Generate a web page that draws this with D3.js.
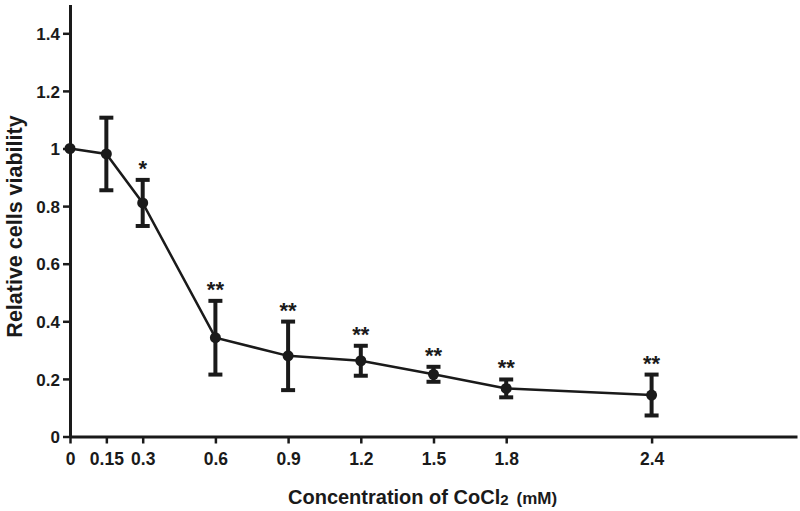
<!DOCTYPE html>
<html><head><meta charset="utf-8">
<script src="https://cdn.jsdelivr.net/npm/d3@7"></script>
<style>
body{margin:0;background:#fff;}
svg text{font-family:Arial,"Liberation Sans",sans-serif;font-weight:bold;fill:#1a1a1a;}
</style></head>
<body><svg id="c" width="800" height="511"></svg>
<script>
const concentrations = [0, 0.15, 0.3, 0.6, 0.9, 1.2, 1.5, 1.8, 2.4];
const viability      = [1.0, 0.981, 0.811, 0.343, 0.280, 0.263, 0.216, 0.167, 0.144];
const errors         = [0, 0.126, 0.080, 0.128, 0.119, 0.052, 0.026, 0.031, 0.071];
const significance   = ["", "", "*", "**", "**", "**", "**", "**", "**"];
const xTickLabels    = ["0", "0.15", "0.3", "0.6", "0.9", "1.2", "1.5", "1.8", "2.4"];
const yTicks         = [0, 0.2, 0.4, 0.6, 0.8, 1.0, 1.2, 1.4];
const yTickLabels    = ["0", "0.2", "0.4", "0.6", "0.8", "1", "1.2", "1.4"];

const svg = d3.select("#c");
const ink = "#1a1a1a";
const x = d3.scaleLinear().domain([0, 3.0]).range([70, 797]);
const y = d3.scaleLinear().domain([0, 1.5]).range([436.5, 4.5]);

// axes
const xAxis = d3.axisBottom(x).tickValues(concentrations)
  .tickFormat((d,i)=>xTickLabels[i]).tickSize(7).tickSizeOuter(0);
const gx = svg.append("g").attr("transform",`translate(0,${y(0)})`).call(xAxis);
const yAxis = d3.axisLeft(y).tickValues(yTicks)
  .tickFormat((d,i)=>yTickLabels[i]).tickSize(7).tickSizeOuter(0);
const gy = svg.append("g").attr("transform",`translate(${x(0)},0)`).call(yAxis);
[gx,gy].forEach(g=>{
  g.select(".domain").attr("stroke",ink).attr("stroke-width",3);
  g.selectAll(".tick line").attr("stroke",ink).attr("stroke-width",2.5);
  g.selectAll(".tick text").attr("fill",ink)
   .style("font-family","Arial, 'Liberation Sans', sans-serif").style("font-weight","bold");
});
gx.selectAll(".tick text").attr("font-size",17.5).attr("y",28.5).attr("dy",0);
gy.selectAll(".tick text").attr("font-size",17).attr("x",-10).attr("dy","0.36em");

// line
const pts = concentrations.map((c,i)=>({c, v:viability[i], e:errors[i], s:significance[i]}));
svg.append("path").datum(pts)
  .attr("fill","none").attr("stroke",ink).attr("stroke-width",2.5)
  .attr("d", d3.line().x(d=>x(d.c)).y(d=>y(d.v)));

// error bars
const eb = svg.append("g").selectAll("g").data(pts.filter(d=>d.e>0)).join("g");
eb.append("line").attr("x1",d=>x(d.c)).attr("x2",d=>x(d.c))
  .attr("y1",d=>y(d.v-d.e)).attr("y2",d=>y(d.v+d.e))
  .attr("stroke",ink).attr("stroke-width",4);
[1,-1].forEach(s=>{
  eb.append("line").attr("x1",d=>x(d.c)-7).attr("x2",d=>x(d.c)+7)
    .attr("y1",d=>y(d.v+s*d.e)).attr("y2",d=>y(d.v+s*d.e))
    .attr("stroke",ink).attr("stroke-width",4);
});

// markers
svg.append("g").selectAll("circle").data(pts).join("circle")
  .attr("cx",d=>x(d.c)).attr("cy",d=>y(d.v)).attr("r",5.5).attr("fill",ink);

// significance
svg.append("g").selectAll("text").data(pts.filter(d=>d.s)).join("text")
  .attr("x",d=>x(d.c)).attr("y",d=>y(d.v+d.e)-4)
  .attr("text-anchor","middle").attr("font-size",22).text(d=>d.s);

// axis titles
const t = svg.append("text").attr("x",288).attr("y",504).attr("font-size",20);
t.append("tspan").text("Concentration of CoCl");
t.append("tspan").attr("font-size",15).attr("dy",1).text("2");
t.append("tspan").attr("font-size",17).attr("dy",-1).attr("dx",8).text("(mM)");

svg.append("text").attr("transform","translate(21.5,226.5) rotate(-90)")
  .attr("text-anchor","middle").attr("font-size",21.5).text("Relative cells viability");
</script></body></html>
